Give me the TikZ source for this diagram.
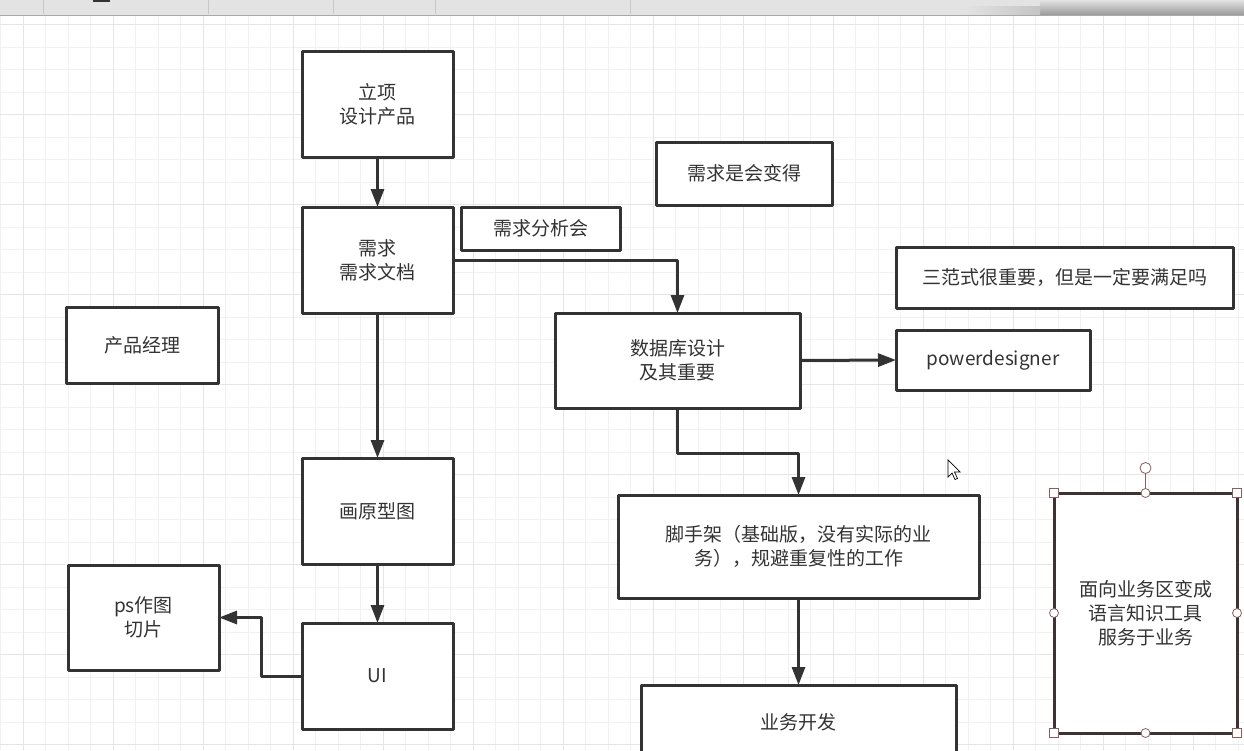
\documentclass[tikz,border=0pt]{standalone}
\usepackage{fontspec}
\setmainfont{Noto Sans CJK SC}
\usetikzlibrary{arrows.meta,calc}
\definecolor{ink}{HTML}{333333}
\definecolor{gridminor}{HTML}{F1F1F1}
\definecolor{gridmajor}{HTML}{E5E5E5}
\definecolor{selbrown}{HTML}{8B5E5E}
\definecolor{selborder}{HTML}{3E3232}
\definecolor{tbfill}{HTML}{E3E3E3}
\definecolor{tbshadow}{HTML}{9A9A9A}
\definecolor{tbshadowb}{HTML}{C4C4C4}
\definecolor{tbline}{HTML}{A8A8A8}
\definecolor{tbsep}{HTML}{C8C8C8}
\tikzset{
  box/.style={draw=ink, line width=3pt, fill=white, rectangle, inner sep=0pt, outer sep=0pt,
    align=center, text=ink, font=\fontsize{19}{24}\selectfont, line join=round},
  conn/.style={draw=ink, line width=3pt, line join=round, -{Triangle[length=18pt,width=13pt]}},
  handlesq/.style={draw=selbrown, fill=white, line width=0.8pt},
}
\begin{document}
\begin{tikzpicture}[x=1pt,y=-1pt]
\useasboundingbox (0,0) rectangle (1244,750);
\clip (0,0) rectangle (1244,750);
\fill[white] (0,0) rectangle (1244,750);
% grid
\foreach \k in {0,...,55} {\draw[gridminor, line width=0.8pt] ({0.5+22.5*\k},15) -- ({0.5+22.5*\k},750);}
\foreach \k in {0,...,33} {\draw[gridminor, line width=0.8pt] (0,{2+22.5*\k}) -- (1244,{2+22.5*\k});}
\foreach \k in {0,...,13} {\draw[gridmajor, line width=1pt] ({23+90*\k},15) -- ({23+90*\k},750);}
\foreach \k in {0,...,8} {\draw[gridmajor, line width=1pt] (0,{24.5+90*\k}) -- (1244,{24.5+90*\k});}
% toolbar
\fill[tbfill] (0,0) rectangle (1244,15);
\shade[top color=tbfill, bottom color=tbshadow] (1040,0) rectangle (1244,15);
\shade[left color=tbfill, right color=tbshadowb] (965,6) rectangle (1040,15);
\draw[tbline, line width=1pt] (0,15) -- (1244,15);
\foreach \x in {43,208,333,435,630} {\draw[tbsep, line width=0.8pt] (\x,0) -- (\x,14);}
\fill[ink] (93,0) rectangle (110,2);
% nodes
\node[box, minimum width=151pt, minimum height=106pt] (lixiang) at (377.5,104) {立项\\设计产品};
\node[box, minimum width=151pt, minimum height=106pt] (xuqiu) at (377.5,260) {需求\\需求文档};
\node[box, minimum width=159pt, minimum height=43pt] (fenxi) at (540.5,228.5) {需求分析会};
\node[box, minimum width=176pt, minimum height=63pt] (bianhua) at (744,173.5) {需求是会变得};
\node[box, minimum width=337pt, minimum height=61pt] (sanfan) at (1064.5,277.5) {三范式很重要，但是一定要满足吗};
\node[box, minimum width=152pt, minimum height=76pt] (chanpin) at (142,345) {产品经理};
\node[box, minimum width=245pt, minimum height=95pt] (shujuku) at (677.5,360.5) {数据库设计\\及其重要};
\node[box, minimum width=194pt, minimum height=60pt] (pd) at (993,360) {powerdesigner};
\node[box, minimum width=151pt, minimum height=106pt] (yuanxing) at (377.5,511) {画原型图};
\node[box, minimum width=151pt, minimum height=105pt] (ps) at (143.5,617.5) {ps作图\\切片};
\node[box, minimum width=151pt, minimum height=106pt] (ui) at (377.5,676) {UI};
\node[box, minimum width=361pt, minimum height=103pt] (jiaoshou) at (798.5,546.5) {脚手架（基础版，没有实际的业\\务），规避重复性的工作};
\node[box, minimum width=315pt, minimum height=74pt] (yewu) at (798.5,722) {业务开发};
\node[box, draw=selborder, minimum width=183pt, minimum height=240pt] (mianxiang) at (1145.5,613) {面向业务区变成\\语言知识工具\\服务于业务};
% connectors
\draw[conn] (lixiang.south) -- (xuqiu.north);
\draw[conn] (xuqiu.east) -| (shujuku.north);
\draw[conn] (xuqiu.south) -- (yuanxing.north);
\draw[conn] (yuanxing.south) -- (ui.north);
\draw[conn] (ui.west) -- ++(-41,0) |- (ps.east);
\draw[conn] (shujuku.east) -- (pd.west);
\draw[conn] (shujuku.south) -- ++(0,45) -| (jiaoshou.north);
\draw[conn] (jiaoshou.south) -- (yewu.north);
% selection handles
\coordinate (rot) at (1145.5,468);
\draw[selbrown, line width=0.8pt] (mianxiang.north) -- ($(rot)+(0,5.5)$);
\filldraw[handlesq] (rot) circle (5.5);
\foreach \a in {north west,north east,south west,south east} {
  \filldraw[handlesq] ($(mianxiang.\a)+(-4.5,-4.5)$) rectangle ++(9,9);
}
\foreach \a in {north,south,east,west} {
  \filldraw[handlesq] (mianxiang.\a) circle (4.5);
}
% cursor
\coordinate (cur) at (948,460);
\filldraw[fill=white, draw=black, line width=0.7pt, line join=miter]
  (cur) -- ++(0,17) -- ++(4,-4) -- ++(3,6.5) -- ++(2.5,-1) -- ++(-3,-6.5) -- ++(5.5,0) -- cycle;
\end{tikzpicture}
\end{document}
